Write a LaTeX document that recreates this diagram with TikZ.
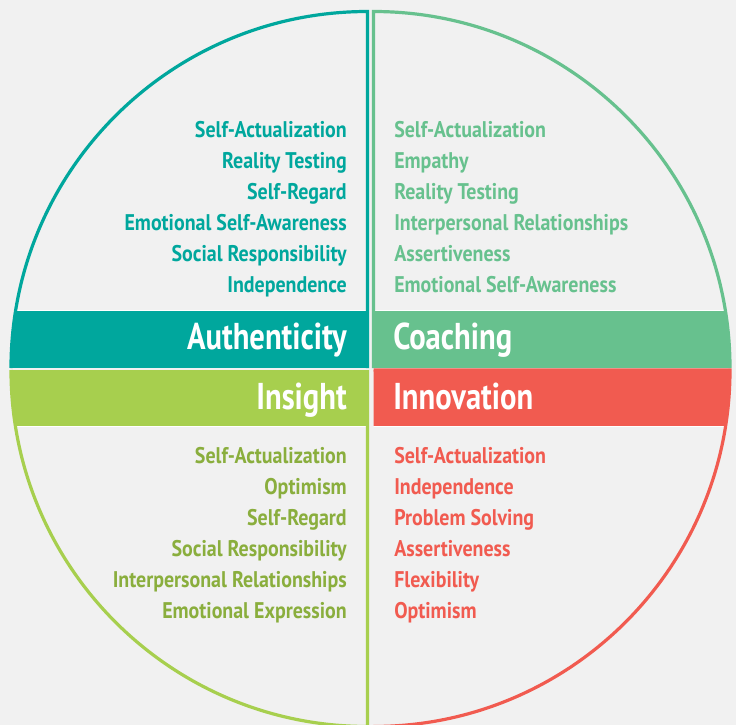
\documentclass[tikz,border=0pt]{standalone}
\usepackage{fontspec}
\setmainfont{PT Sans}
\newfontfamily\listfont{PT Sans}[FakeStretch=0.88]
\newfontfamily\titlefont{PT Sans}[FakeStretch=0.82]
\usetikzlibrary{matrix}

\definecolor{authcol}{HTML}{00A79D}
\definecolor{coachcol}{HTML}{67C18E}
\definecolor{insightcol}{HTML}{A7CF4E}
\definecolor{insighttext}{HTML}{8AAE3D}
\definecolor{innocol}{HTML}{F15B50}
\definecolor{bgcol}{HTML}{F1F1F1}

\begin{document}
\begin{tikzpicture}[x=0.75pt, y=-0.75pt,
    item/.style={font=\listfont\bfseries\fontsize{17}{17}\selectfont, inner sep=0pt, text height=12pt, text depth=11.25pt},
    title/.style={font=\titlefont\bfseries\fontsize{28}{28}\selectfont, text=white, inner sep=0pt},
    rim/.style={line width=2.4pt}]

  \fill[bgcol] (0,0) rectangle (736,725);
  \useasboundingbox (0,0) rectangle (736,725);

  % top left
  \begin{scope}
    \clip (367.5,368) -- (11,368) arc[start angle=180, end angle=270, radius=356.5] -- cycle;
    \fill[authcol] (0,311) rectangle (370,368);
    \draw[white, line width=0.75pt] (0,310.5) -- (370,310.5);
  \end{scope}
  \draw[authcol, rim] (11,368) arc[start angle=180, end angle=270, radius=356.5] -- (367.5,368);

  % top right
  \begin{scope}
    \clip (373.5,368) -- (373.5,11.5) arc[start angle=270, end angle=360, radius=356.5] -- cycle;
    \fill[coachcol] (372,311) rectangle (736,368);
    \draw[white, line width=0.75pt] (372,310.5) -- (736,310.5);
  \end{scope}
  \draw[coachcol, rim] (373.5,368) -- (373.5,11.5) arc[start angle=270, end angle=360, radius=356.5];

  % bottom left
  \begin{scope}
    \clip (367.5,370) -- (11,370) arc[start angle=180, end angle=90, radius=356.5] -- cycle;
    \fill[insightcol] (0,370) rectangle (370,426);
    \draw[white, line width=0.75pt] (0,426.5) -- (370,426.5);
  \end{scope}
  \draw[insightcol, rim] (11,370) arc[start angle=180, end angle=90, radius=356.5] -- (367.5,370);

  % bottom right
  \begin{scope}
    \clip (373.5,370) -- (730,370) arc[start angle=0, end angle=90, radius=356.5] -- cycle;
    \fill[innocol] (372,370) rectangle (736,426);
    \draw[white, line width=0.75pt] (372,426.5) -- (736,426.5);
  \end{scope}
  \draw[innocol, rim] (373.5,370) -- (730,370) arc[start angle=0, end angle=90, radius=356.5];

  % titles
  \node[title, anchor=base east] (authentic) at (347,349) {Authenticity};
  \node[title, anchor=base west] (coaching) at (393,349) {Coaching};
  \node[title, anchor=base east] (insight) at (347,409) {Insight};
  \node[title, anchor=base west] (innovation) at (393,409) {Innovation};

  % lists
  \matrix (authlist) [matrix of nodes, nodes={item, text=authcol, anchor=east},
    row sep=0pt, inner sep=0pt, anchor=north east] at (347,121) {
    Self-Actualization \\
    Reality Testing \\
    Self-Regard \\
    Emotional Self-Awareness \\
    Social Responsibility \\
    Independence \\
  };
  \matrix (coachlist) [matrix of nodes, nodes={item, text=coachcol, anchor=west},
    row sep=0pt, inner sep=0pt, anchor=north west] at (394,121) {
    Self-Actualization \\
    Empathy \\
    Reality Testing \\
    Interpersonal Relationships \\
    Assertiveness \\
    Emotional Self-Awareness \\
  };
  \matrix (insightlist) [matrix of nodes, nodes={item, text=insighttext, anchor=east},
    row sep=0pt, inner sep=0pt, anchor=north east] at (347,447) {
    Self-Actualization \\
    Optimism \\
    Self-Regard \\
    Social Responsibility \\
    Interpersonal Relationships \\
    Emotional Expression \\
  };
  \matrix (innolist) [matrix of nodes, nodes={item, text=innocol, anchor=west},
    row sep=0pt, inner sep=0pt, anchor=north west] at (394,447) {
    Self-Actualization \\
    Independence \\
    Problem Solving \\
    Assertiveness \\
    Flexibility \\
    Optimism \\
  };
\end{tikzpicture}
\end{document}
